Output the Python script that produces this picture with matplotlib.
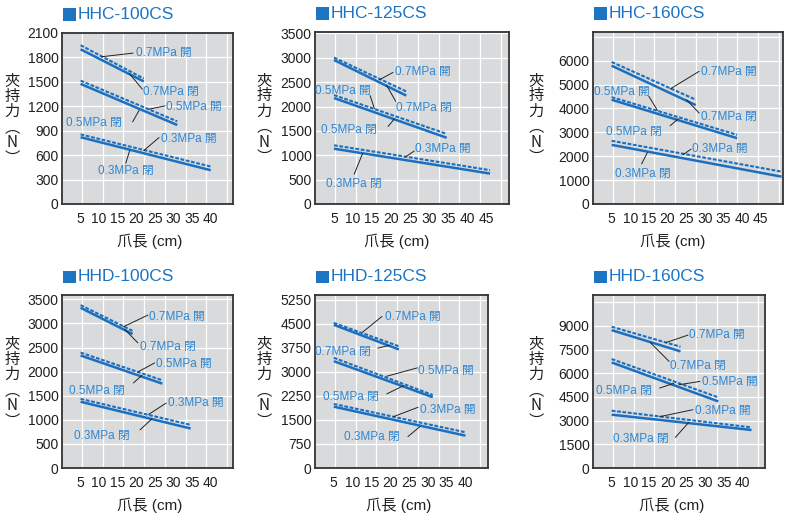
import matplotlib
matplotlib.use("Agg")
import matplotlib.pyplot as plt
from matplotlib.patches import Rectangle

plt.rcParams['font.family'] = ['Liberation Sans', 'Noto Sans CJK TC']

W, H = 785, 514
LINE = '#1a6fc0'
NOTE = '#2e87d3'
TITLE = '#1d74c3'
INK = '#231f20'

# order in every list: 0.7 MPa, 0.5 MPa, 0.3 MPa
pressures = ['0.7', '0.5', '0.3']

# claw length (cm) at start / end of each curve, clamping force (N)
hhc100_len = [[5, 22], [5, 31], [5, 40]]
hhc100_open = [[1950, 1540], [1515, 1015], [855, 460]]
hhc100_close = [[1900, 1505], [1475, 970], [820, 415]]

hhc125_len = [[5, 24], [5, 34.6], [5, 46]]
hhc125_open = [[3005, 2310], [2235, 1440], [1205, 695]]
hhc125_close = [[2955, 2225], [2175, 1360], [1135, 625]]

hhc160_len = [[5, 27.6], [5, 38.7], [5, 50.6]]
hhc160_open = [[5945, 4365], [4475, 2895], [2645, 1355]]
hhc160_close = [[5790, 4140], [4365, 2755], [2475, 1145]]

hhd100_len = [[5, 19], [5, 27], [5, 34.6]]
hhd100_open = [[3380, 2845], [2395, 1820], [1435, 895]]
hhd100_close = [[3325, 2780], [2335, 1750], [1375, 820]]

hhd125_len = [[5, 22.3], [5, 31.3], [5, 40]]
hhd125_open = [[4530, 3800], [3440, 2280], [2000, 1115]]
hhd125_close = [[4470, 3700], [3335, 2210], [1915, 1010]]

hhd160_len = [[5, 23.4], [5, 33.5], [5, 42.4]]
hhd160_open = [[8940, 7675], [6895, 4470], [3625, 2570]]
hhd160_close = [[8725, 7380], [6680, 4215], [3375, 2405]]

# (pressure index, open?, text x, text y, leader from, leader to) in data units
notes_hhc100 = [
    (0, True, 20.0, 1853, (19.1, 1853), (10.6, 1808)),
    (0, False, 21.8, 1373, (21.6, 1410), (18.2, 1599)),
    (1, True, 28.0, 1197, (27.7, 1205), (23.4, 1164)),
    (1, False, 0.95, 1000, (19.0, 1009), (20.75, 1150)),
    (2, True, 26.6, 795, (26.1, 816), (22.0, 656)),
    (2, False, 9.7, 410, (17.15, 500), (18.2, 655)),
]
notes_hhc125 = [
    (0, True, 20.9, 2700, (20.5, 2700), (16.95, 2550)),
    (0, False, 21.4, 1972, (21.2, 2108), (18.8, 2440)),
    (1, True, 0.0, 2312, (14.5, 2224), (15.6, 1960)),
    (1, False, 1.7, 1510, (19.2, 1591), (20.9, 1750)),
    (2, True, 26.4, 1122, (26.1, 1088), (23.8, 966)),
    (2, False, 2.8, 401, (10.3, 612), (12.5, 1034)),
]
notes_hhc160 = [
    (0, True, 29.0, 5512, (28.5, 5554), (20.7, 4813)),
    (0, False, 29.0, 3637, (28.5, 3805), (25.1, 4365)),
    (1, True, 0.35, 4673, (15.0, 4505), (17.3, 3917)),
    (1, False, 3.5, 3008, (20.7, 3274), (22.9, 3567)),
    (2, True, 26.7, 2308, (26.3, 2294), (24.1, 2057)),
    (2, False, 5.9, 1259, (13.05, 1679), (14.6, 2154)),
]
notes_hhd100 = [
    (0, True, 23.5, 3139, (23.1, 3173), (16.5, 2930)),
    (0, False, 21.0, 2514, (20.4, 2597), (16.9, 2875)),
    (1, True, 25.3, 2153, (24.9, 2180), (20.4, 1993)),
    (1, False, 2.0, 1597, (19.2, 1764), (21.5, 1924)),
    (2, True, 28.4, 1347, (28.0, 1347), (23.3, 1111)),
    (2, False, 3.1, 660, (21.0, 792), (24.2, 1021)),
]
notes_hhd125 = [
    (0, True, 18.5, 4729, (17.8, 4729), (12.65, 4240)),
    (0, False, 0.05, 3615, (16.7, 3740), (19.75, 3830)),
    (1, True, 27.4, 3021, (27.2, 3125), (19.1, 2865)),
    (1, False, 2.2, 2229, (19.1, 2313), (23.6, 2573)),
    (2, True, 27.9, 1812, (27.4, 1896), (20.9, 1604)),
    (2, False, 7.6, 958, (24.7, 979), (27.9, 1292)),
]
notes_hhd160 = [
    (0, True, 25.8, 8432, (25.4, 8411), (19.6, 7947)),
    (0, False, 20.7, 6472, (20.35, 6746), (15.3, 7947)),
    (1, True, 29.1, 5418, (28.6, 5481), (23.0, 5270)),
    (1, False, 0.7, 4848, (17.8, 5059), (21.6, 5354)),
    (2, True, 27.2, 3584, (26.7, 3689), (17.8, 3246)),
    (2, False, 5.3, 1834, (22.05, 1939), (25.6, 2888)),
]

fig = plt.figure(figsize=(W / 100, H / 100), dpi=100)


def draw_panel(rect, title, lens, opens, closes, xmax, xlab_max,
               ymax, ystep, ylab_max, notes, ylab_x, xlab_x):
    l, t, r, b = rect
    ax = fig.add_axes([l / W, 1 - b / H, (r - l) / W, (b - t) / H])
    ax.set_facecolor('#d9dadb')
    ax.set_xlim(0, xmax)
    ax.set_ylim(0, ymax)

    # vertical grid has its own pixel pitch, it does not follow the ticks
    px = 20.0
    while l + px < r - 3:
        ax.axvline(px / (r - l) * xmax, color='white', lw=0.9, zorder=1)
        px += 20.7
    y = ystep
    while y < ymax:
        ax.axhline(y, color='white', lw=0.9, zorder=1)
        y += ystep

    ax.set_xticks(range(5, xlab_max + 1, 5))
    yt = list(range(0, ylab_max + 1, ystep))
    ax.set_yticks(yt)
    ax.tick_params(length=0, labelsize=10, colors=INK)
    ax.tick_params(axis='x', pad=6)
    ax.tick_params(axis='y', pad=2.5)
    for s in ax.spines.values():
        s.set_color('#333333')
        s.set_linewidth(1.3)

    for i in range(3):
        ax.plot(lens[i], closes[i], color=LINE, lw=1.8, zorder=3,
                solid_capstyle='butt')
        ax.plot(lens[i], opens[i], color=LINE, lw=1.5, zorder=3,
                ls=(0, (1.8, 0.8)), dash_capstyle='butt')

    for pi, is_open, tx, ty, p0, p1 in notes:
        txt = pressures[pi] + 'MPa ' + ('開' if is_open else '閉')
        ax.text(tx, ty, txt, color=NOTE, fontsize=8.5, ha='left',
                va='center', zorder=5, clip_on=False)
        ax.annotate('', xy=p1, xytext=p0, zorder=4, annotation_clip=False,
                    arrowprops=dict(arrowstyle='-', color='#222222', lw=0.7,
                                    shrinkA=0, shrinkB=0))

    # title with the blue square
    ty = t - 18.5
    fig.patches.append(Rectangle(((l + 1) / W, 1 - (ty + 6) / H), 12.5 / W,
                                 12 / H, transform=fig.transFigure,
                                 color=TITLE, lw=0))
    fig.text((l + 16) / W, 1 - ty / H, title, color=TITLE, fontsize=12.5,
             ha='left', va='center')

    # stacked vertical y label, one text block
    fig.text(ylab_x / W, 1 - ((t + b) / 2 + 1) / H, '夾\n持\n力\n︵\nN\n︶',
             family=['Noto Sans CJK TC'], fontsize=11, color=INK,
             ha='center', va='center', ma='center', linespacing=0.88)

    fig.text(xlab_x / W, 1 - (b + 37) / H, '爪長 (cm)', fontsize=11,
             color=INK, ha='center', va='center')
    return ax


draw_panel((62, 33, 233, 204), 'HHC-100CS', hhc100_len, hhc100_open,
           hhc100_close, 46, 40, 2100, 300, 2100, notes_hhc100, 12, 150)
draw_panel((315, 32, 509, 204), 'HHC-125CS', hhc125_len, hhc125_open,
           hhc125_close, 51, 45, 3530, 500, 3500, notes_hhc125, 264, 397)
draw_panel((593, 32, 783, 204), 'HHC-160CS', hhc160_len, hhc160_open,
           hhc160_close, 51, 45, 7200, 1000, 6000, notes_hhc160, 536, 673)
draw_panel((62, 295, 233, 468), 'HHD-100CS', hhd100_len, hhd100_open,
           hhd100_close, 46, 40, 3590, 500, 3500, notes_hhd100, 12, 150)
draw_panel((315, 295, 488, 468), 'HHD-125CS', hhd125_len, hhd125_open,
           hhd125_close, 46, 40, 5400, 750, 5250, notes_hhd125, 264, 399)
draw_panel((593, 295, 765, 468), 'HHD-160CS', hhd160_len, hhd160_open,
           hhd160_close, 46, 40, 10950, 1500, 9000, notes_hhd160, 536, 672)

fig.savefig('out.png', dpi=100)
